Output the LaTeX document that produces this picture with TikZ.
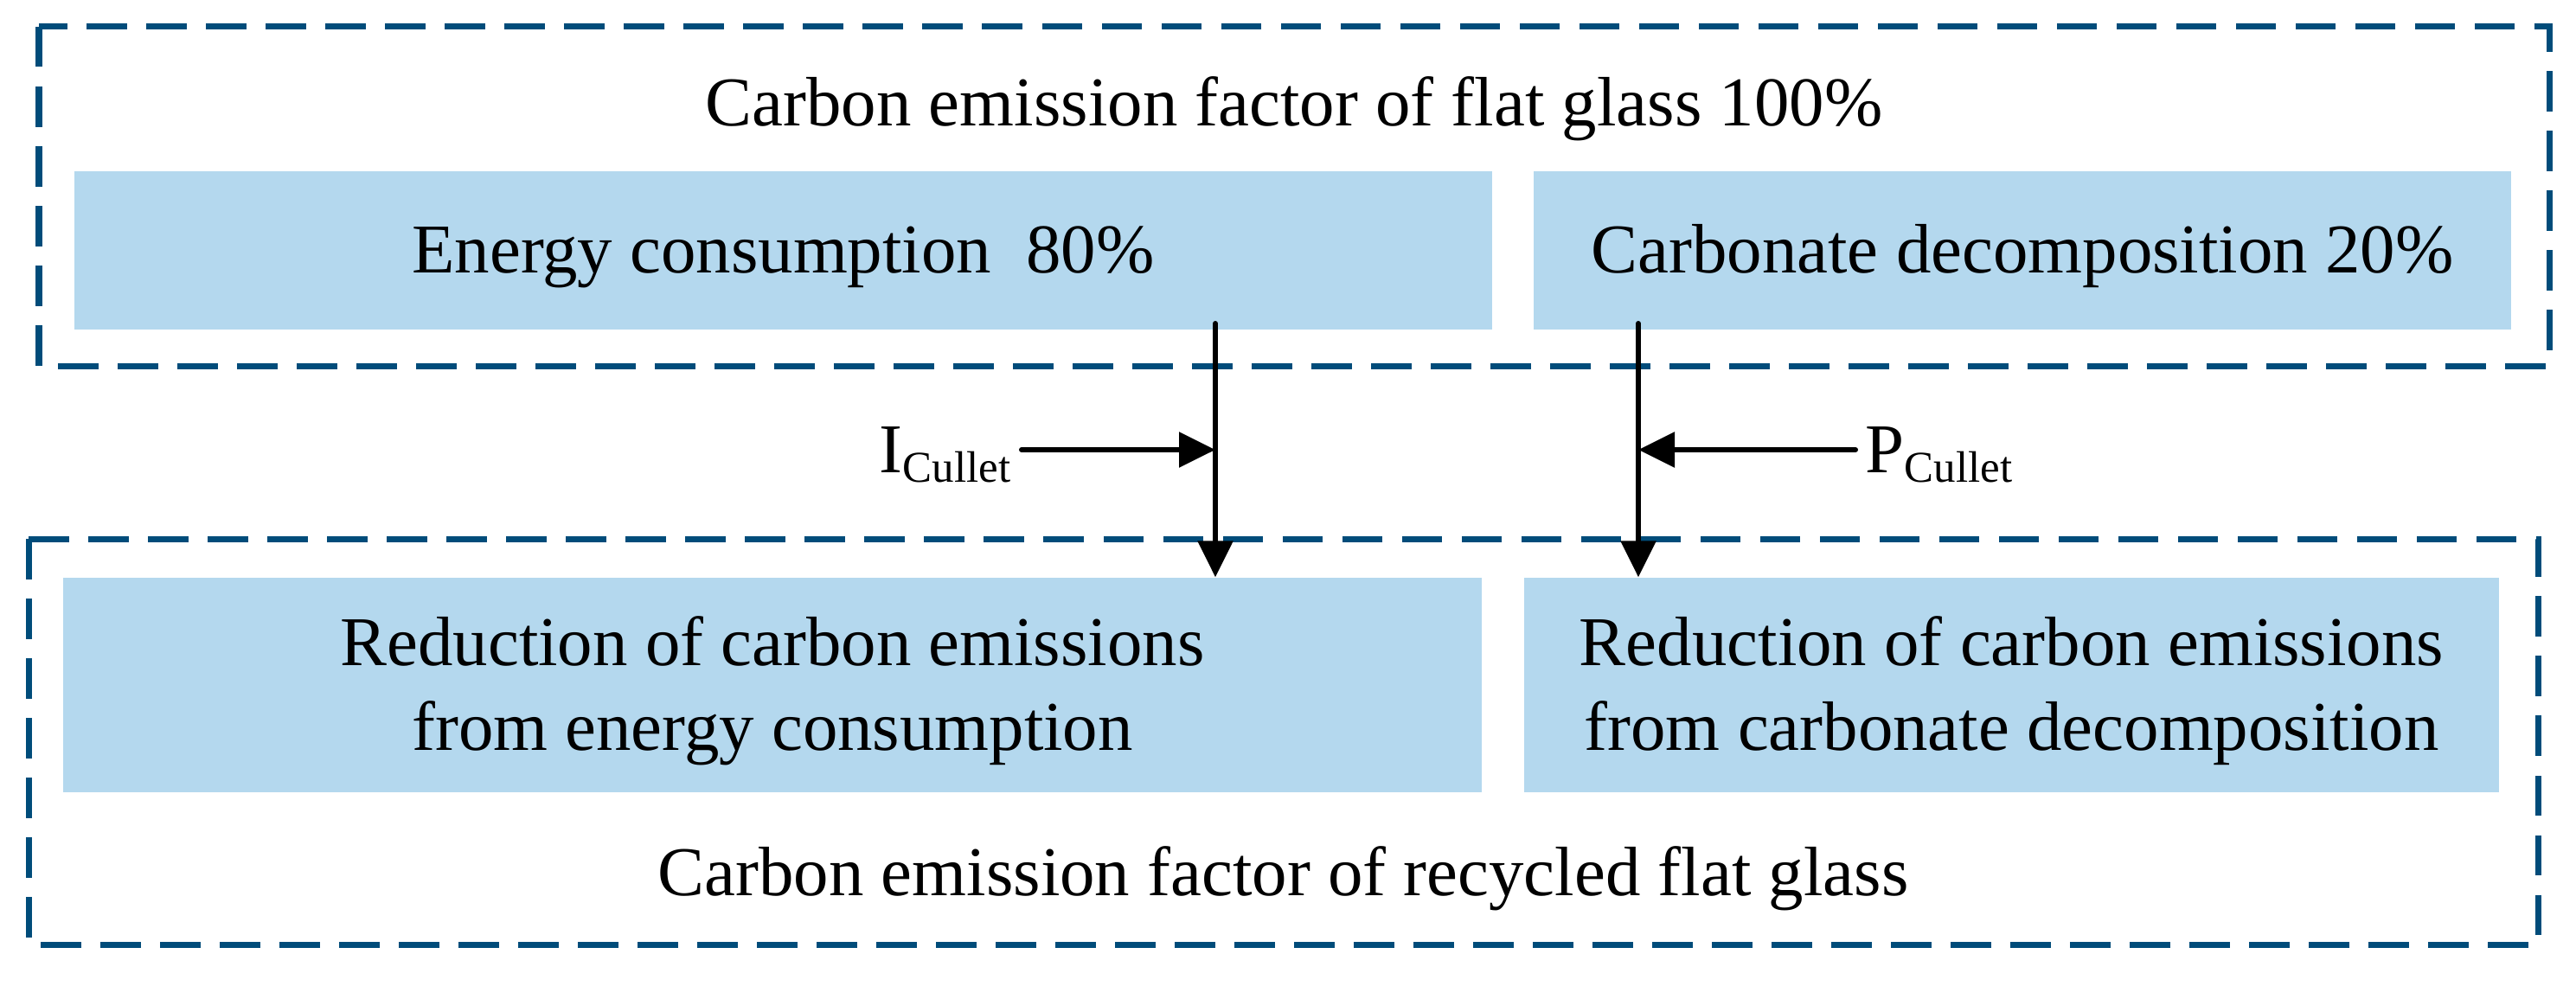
\documentclass[tikz,border=0pt]{standalone}
\usepackage{fontspec}
\setmainfont{Liberation Serif}
\usetikzlibrary{arrows.meta}
\definecolor{boxblue}{RGB}{180,216,238}
\definecolor{frameblue}{RGB}{0,76,122}
\tikzset{
	framebox/.style={draw=frameblue, line width=0.07cm, dash pattern=on 0.465cm off 0.225cm},
	fillbox/.style={fill=boxblue, inner sep=0pt},
	boxtext/.style={anchor=base, inner sep=0pt, align=center},
	flow/.style={line width=0.06cm, line cap=round, -{Triangle[length=0.42cm,width=0.4cm]}}
}
\def\cullet{\raisebox{-0.11cm}{\fontsize{14.5}{14.5}\selectfont Cullet}}

\begin{document}
\begin{tikzpicture}[font=\fontsize{23}{27.8}\selectfont]
			%%%%% START %%%%%
			\useasboundingbox (0,0) rectangle (29.78,11.39);
			
			\draw[framebox] (0.45,11.08) rectangle (29.47,7.16);
			\node[boxtext] (flattitle) at (14.96,9.94) {Carbon emission factor of flat glass 100\%};
			
			\node[fillbox, minimum width=16.39cm, minimum height=1.83cm] (energy) at (9.055,8.495) {};
			\node[boxtext] (energytext) at (9.055,8.24) {Energy consumption\ \ 80\%};
			\node[fillbox, minimum width=11.30cm, minimum height=1.83cm] (carbonate) at (23.38,8.495) {};
			\node[boxtext] (carbonatetext) at (23.38,8.24) {Carbonate decomposition 20\%};
			
			\draw[framebox] (0.33,5.16) rectangle (29.34,0.47);
			\node[boxtext] (recycledtitle) at (14.835,1.04) {Carbon emission factor of recycled flat glass};
			
			\node[fillbox, minimum width=16.40cm, minimum height=2.48cm] (redenergy) at (8.93,3.47) {};
			\node[boxtext] (redenergytext) at (8.93,2.72) {Reduction of carbon emissions\\from energy consumption};
			\node[fillbox, minimum width=11.27cm, minimum height=2.48cm] (redcarbonate) at (23.255,3.47) {};
			\node[boxtext] (redcarbonatetext) at (23.255,2.72) {Reduction of carbon emissions\\from carbonate decomposition};
			
			% vertical flows
			\coordinate (estart) at (14.05,7.65);
			\coordinate (cstart) at (18.94,7.65);
			\draw[flow] (estart) -- (estart |- redenergy.north);
			\draw[flow] (cstart) -- (cstart |- redcarbonate.north);
			
			% cullet inputs
			\node[anchor=base west, inner sep=0pt] (icullet) at (10.16,5.93) {I\cullet};
			\node[anchor=base west, inner sep=0pt] (pcullet) at (21.56,5.93) {P\cullet};
			\coordinate (istart) at (11.81,6.19);
			\coordinate (pstart) at (21.45,6.19);
			\draw[flow] (istart) -- (istart -| estart);
			\draw[flow] (pstart) -- (pstart -| cstart);
			
			%%%%% END %%%%%
\end{tikzpicture}
\end{document}
